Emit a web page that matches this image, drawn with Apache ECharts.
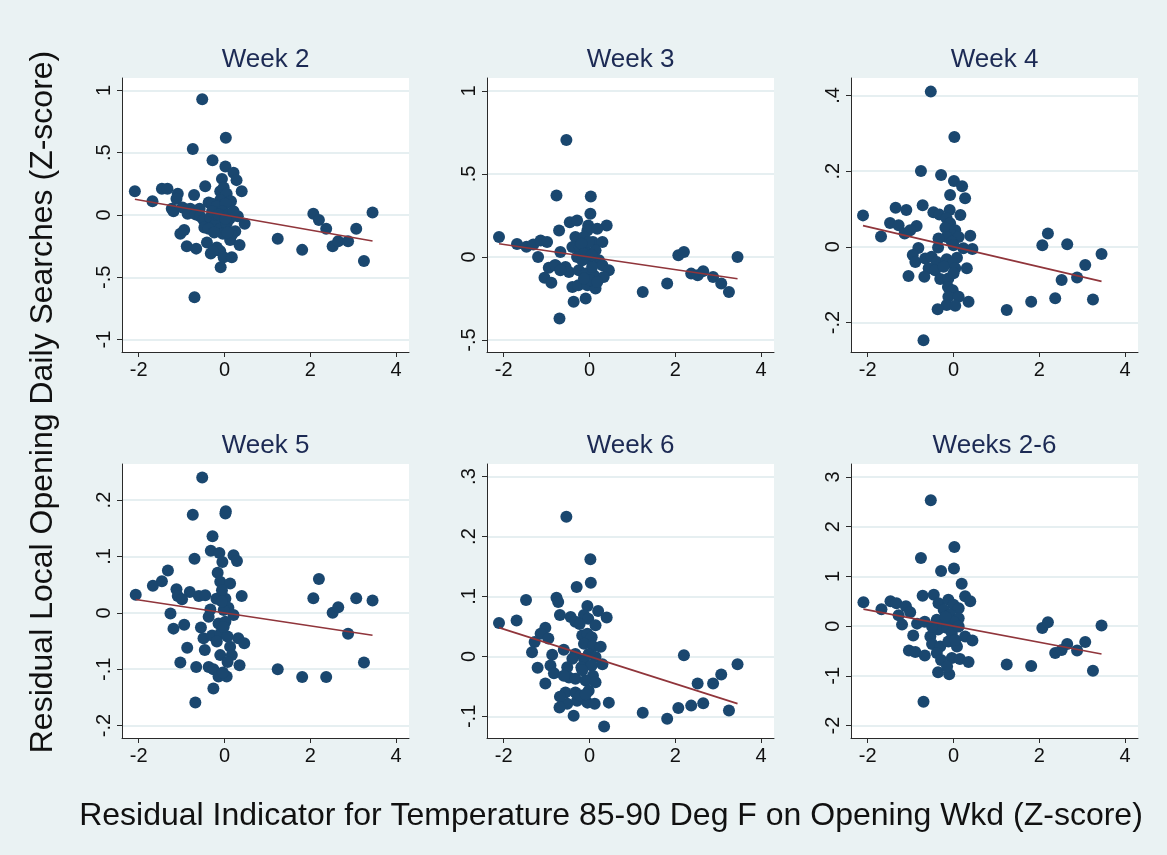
<!DOCTYPE html>
<html>
<head>
<meta charset="utf-8">
<script src="https://cdn.jsdelivr.net/npm/echarts@6/dist/echarts.min.js"></script>
<style>
html,body{margin:0;padding:0;background:#eaf2f3;}
#c{width:1167px;height:855px;}
</style>
</head>
<body>
<div id="c"></div>
<script>
const titles = ['Week 2','Week 3','Week 4','Week 5','Week 6','Weeks 2-6'];
const xTitle = 'Residual Indicator for Temperature 85-90 Deg F on Opening Wkd (Z-score)';
const yTitle = 'Residual Local Opening Daily Searches (Z-score)';
const xTicks = [-2,0,2,4];
const xRange = [-2.39,4.30];
const yTicks = [[-1,-0.5,0,0.5,1],[-0.5,0,0.5,1],[-0.2,0,0.2,0.4],[-0.2,-0.1,0,0.1,0.2],[-0.1,0,0.1,0.2,0.3],[-2,-1,0,1,2,3]];
const yRanges = [[-1.1,1.1],[-0.572,1.078],[-0.278,0.446],[-0.222,0.264],[-0.136,0.321],[-2.25,3.26]];
const slopes = [-0.0605,-0.038,-0.0265,-0.0115,-0.0228,-0.163];

const week2 = [[-2.09,0.19],[-1.68,0.11],[-1.46,0.21],[-1.33,0.21],[-1.09,0.17],[-1.12,0.13],[-1.23,0.05],[-1.19,0.03],[-0.98,0.06],[-0.80,0.05],[-0.86,0.01],[-0.71,0.16],[-0.74,0.53],[-0.52,0.93],[-0.70,-0.66],[-1.03,-0.15],[-0.94,-0.12],[-0.88,-0.25],[-0.66,-0.27],[-0.45,0.23],[-0.28,0.44],[0.03,0.62],[0.02,0.39],[0.21,0.34],[0.28,0.28],[0.40,0.19],[-0.06,0.29],[-0.10,0.19],[-0.02,0.22],[0.05,0.17],[0.15,0.11],[-0.10,0.12],[-0.37,0.10],[-0.29,0.09],[-0.18,0.07],[0.02,0.09],[-0.06,0.03],[0.09,0.005],[0.31,-0.01],[0.47,-0.07],[-0.58,0.05],[-0.68,0.005],[-0.57,-0.01],[-0.49,-0.04],[-0.47,-0.10],[-0.33,-0.02],[-0.26,-0.09],[-0.18,-0.05],[-0.10,-0.11],[0.05,-0.07],[-0.04,-0.15],[0.25,-0.13],[0.13,-0.20],[0.35,-0.24],[0.17,-0.16],[-0.18,-0.26],[-0.41,-0.22],[-0.32,-0.31],[-0.10,-0.29],[-0.02,-0.34],[0.17,-0.34],[-0.09,-0.42],[-0.27,-0.29],[-0.37,-0.11],[0.07,-0.14],[-0.22,0.005],[-0.29,0.03],[-0.24,-0.14],[0.12,-0.03],[0.21,0.03],[-0.14,0.005],[0.02,-0.03],[1.24,-0.19],[1.81,-0.28],[2.07,0.01],[2.20,-0.04],[2.37,-0.11],[2.52,-0.25],[2.65,-0.21],[2.88,-0.21],[3.07,-0.11],[3.25,-0.37],[3.45,0.02]];

const week3 = [[-2.11,0.12],[-1.69,0.078],[-1.47,0.062],[-1.31,0.076],[-1.14,0.10],[-0.99,0.09],[-1.20,0.0],[-0.95,-0.064],[-1.05,-0.125],[-0.89,-0.155],[-0.77,0.37],[-0.71,0.16],[-0.70,-0.37],[-0.68,0.03],[-0.81,-0.05],[-0.46,0.21],[-0.29,0.22],[-0.37,-0.27],[-0.09,-0.25],[0.03,0.365],[0.02,0.26],[0.40,0.19],[-0.54,0.705],[-0.03,0.19],[-0.05,0.16],[0.18,0.17],[-0.33,0.12],[-0.13,0.12],[0.08,0.09],[0.30,0.09],[-0.40,0.06],[-0.23,0.06],[-0.09,0.04],[0.14,0.04],[-0.29,0.0],[-0.02,-0.01],[0.22,-0.02],[0.30,-0.05],[0.45,-0.08],[-0.79,-0.05],[-0.56,-0.06],[-0.48,-0.09],[-0.68,-0.08],[-0.25,-0.08],[-0.09,-0.10],[0.10,-0.11],[0.33,-0.12],[-0.40,-0.18],[-0.26,-0.17],[-0.05,-0.17],[0.14,-0.19],[0.02,-0.14],[-0.17,-0.02],[0.06,-0.06],[-0.13,-0.13],[0.18,-0.15],[-0.02,0.09],[-0.19,0.08],[-0.12,0.02],[0.05,0.01],[1.24,-0.21],[1.81,-0.16],[2.07,0.01],[2.20,0.03],[2.37,-0.10],[2.52,-0.11],[2.65,-0.085],[2.88,-0.12],[3.07,-0.16],[3.25,-0.21],[3.45,0.0]];

const week4 = [[-0.53,0.41],[0.02,0.29],[-2.11,0.083],[-1.69,0.027],[-0.70,-0.247],[-0.76,0.20],[-0.29,0.19],[0.01,0.174],[0.20,0.16],[-0.08,0.137],[0.27,0.128],[-0.72,0.11],[-1.35,0.103],[-1.10,0.097],[-0.47,0.091],[-0.33,0.085],[-0.09,0.097],[0.16,0.084],[-1.48,0.063],[-1.28,0.057],[-0.86,0.055],[-1.14,0.035],[-1.01,0.044],[-0.16,0.075],[-0.08,0.062],[-0.19,0.05],[0.04,0.044],[-0.02,0.031],[-0.16,0.026],[0.12,0.026],[0.39,0.029],[-0.35,0.022],[-0.04,0.013],[-0.36,-0.002],[-0.82,-0.003],[0.23,-0.004],[0.44,-0.006],[0.0,0.004],[-0.95,-0.022],[-0.89,-0.04],[-0.66,-0.031],[-0.51,-0.026],[-0.39,-0.04],[-0.16,-0.033],[0.08,-0.029],[-0.02,-0.044],[-0.58,-0.057],[-0.43,-0.062],[-0.23,-0.053],[0.04,-0.057],[0.31,-0.057],[-1.05,-0.077],[-0.68,-0.079],[-0.31,-0.085],[-0.12,-0.084],[0.0,-0.07],[-0.13,-0.106],[-0.02,-0.115],[-0.12,-0.132],[0.12,-0.132],[0.35,-0.145],[-0.16,-0.154],[0.04,-0.156],[-0.37,-0.165],[1.24,-0.167],[1.81,-0.145],[2.07,0.004],[2.20,0.035],[2.37,-0.136],[2.52,-0.088],[2.65,0.007],[2.88,-0.081],[3.07,-0.048],[3.25,-0.139],[3.45,-0.019]];

const week5 = [[-2.07,0.032],[-1.67,0.048],[-1.46,0.056],[-1.32,0.075],[-0.52,0.24],[-0.74,0.174],[0.03,0.18],[0.02,0.176],[-0.28,0.136],[-0.68,-0.159],[-0.32,0.11],[-0.12,0.106],[-0.70,0.096],[0.21,0.102],[0.29,0.092],[-0.05,0.09],[-0.16,0.071],[-0.10,0.055],[0.13,0.052],[-1.12,0.042],[-0.81,0.037],[-1.09,0.03],[-0.99,0.024],[-0.60,0.03],[-0.45,0.031],[0.40,0.03],[-0.19,0.025],[0.02,0.025],[-0.06,0.04],[-0.33,0.006],[0.09,0.009],[-0.37,-0.007],[0.21,-0.004],[-1.26,-0.001],[-1.19,-0.028],[-0.94,-0.021],[-0.55,-0.026],[-0.14,-0.019],[0.02,-0.016],[-0.49,-0.045],[-0.29,-0.04],[-0.10,-0.037],[0.07,-0.042],[0.32,-0.045],[0.46,-0.054],[-0.18,-0.051],[0.13,-0.06],[-0.87,-0.062],[-0.46,-0.066],[-0.10,-0.075],[0.17,-0.075],[0.07,-0.087],[-1.03,-0.088],[-0.66,-0.096],[-0.37,-0.096],[-0.26,-0.1],[0.35,-0.093],[-0.14,-0.113],[0.05,-0.113],[-0.04,-0.106],[-0.26,-0.134],[-0.02,-0.025],[-0.02,0.005],[-0.06,0.02],[1.24,-0.10],[1.81,-0.114],[2.07,0.026],[2.20,0.06],[2.37,-0.114],[2.52,0.0],[2.65,0.01],[2.88,-0.037],[3.07,0.026],[3.25,-0.088],[3.45,0.022]];

const week6 = [[-0.54,0.233],[-2.11,0.056],[-1.70,0.06],[-1.48,0.094],[0.02,0.162],[0.03,0.123],[-0.30,0.116],[-0.77,0.098],[-0.73,0.091],[-0.05,0.084],[0.20,0.076],[0.40,0.065],[-0.69,0.069],[-0.44,0.066],[-0.13,0.069],[-0.03,0.063],[-0.33,0.058],[-0.23,0.054],[0.14,0.052],[-1.03,0.048],[-1.14,0.038],[-0.17,0.035],[-0.05,0.038],[0.05,0.032],[-0.96,0.03],[-1.28,0.024],[-0.13,0.021],[0.08,0.017],[-0.60,0.011],[0.26,0.016],[-1.34,0.007],[-0.87,0.003],[-0.33,0.004],[-0.02,0.004],[-0.13,-0.004],[0.14,-0.001],[-0.40,-0.004],[0.30,-0.013],[-1.21,-0.019],[-0.91,-0.015],[-0.83,-0.028],[-0.52,-0.018],[-0.19,-0.018],[0.05,-0.015],[-0.48,-0.035],[-0.33,-0.037],[-0.60,-0.032],[0.08,-0.032],[-0.09,-0.04],[-1.03,-0.045],[-0.56,-0.06],[-0.33,-0.06],[-0.02,-0.057],[0.14,-0.043],[-0.52,-0.079],[-0.29,-0.074],[-0.05,-0.077],[0.12,-0.079],[-0.69,-0.067],[-0.70,-0.085],[-0.37,-0.099],[0.45,-0.077],[0.34,-0.117],[-0.21,-0.065],[-0.09,-0.063],[-0.17,-0.023],[1.24,-0.094],[1.81,-0.104],[2.07,-0.086],[2.20,0.002],[2.37,-0.082],[2.52,-0.045],[2.65,-0.078],[2.88,-0.045],[3.07,-0.03],[3.25,-0.09],[3.45,-0.013]];

const weeks26 = [[-0.53,2.53],[-2.10,0.48],[-1.68,0.34],[-0.70,-1.52],[-0.76,1.37],[0.02,1.59],[-0.29,1.11],[0.01,1.16],[0.19,0.85],[-0.72,0.61],[-0.46,0.63],[0.27,0.60],[0.39,0.50],[-1.47,0.50],[-1.33,0.46],[-1.11,0.40],[-1.01,0.28],[-1.28,0.22],[-1.20,0.03],[-0.85,0.05],[-0.35,0.46],[-0.12,0.53],[0.0,0.43],[0.12,0.36],[-0.23,0.33],[-0.08,0.23],[0.12,0.16],[-0.39,0.13],[-0.19,0.09],[0.0,0.09],[-0.67,0.09],[-0.94,-0.19],[-0.54,-0.21],[-0.36,-0.07],[-0.15,-0.04],[-0.04,-0.14],[0.12,-0.01],[0.27,-0.21],[0.44,-0.29],[-0.50,-0.36],[-0.31,-0.41],[-0.12,-0.31],[0.08,-0.41],[-1.04,-0.49],[-0.89,-0.52],[-0.67,-0.59],[-0.39,-0.54],[-0.29,-0.68],[-0.04,-0.64],[0.15,-0.66],[0.35,-0.72],[-0.36,-0.93],[-0.10,-0.97],[-0.15,-0.81],[-0.19,0.19],[0.04,-0.28],[-0.50,-0.01],[1.24,-0.77],[1.81,-0.80],[2.07,-0.04],[2.20,0.08],[2.37,-0.54],[2.52,-0.48],[2.65,-0.36],[2.88,-0.49],[3.07,-0.32],[3.25,-0.90],[3.45,0.01]];

const panels = [week2, week3, week4, week5, week6, weeks26];

// layout (pixels)
const lefts = [122, 487, 851];
const tops = [78, 464];
const gw = 287, gh = 274;

const FONT = '"Liberation Sans", Arial, Helvetica, sans-serif';
const fmt = v => String(+v.toFixed(3)).replace(/^(-?)0\./, '$1.');

const grid = [], xAxis = [], yAxis = [], series = [], graphic = [];
panels.forEach((pts, i) => {
  const col = i % 3, row = Math.floor(i / 3);
  grid.push({left: lefts[col], top: tops[row], width: gw, height: gh, show: true, backgroundColor: '#ffffff', borderWidth: 0});
  xAxis.push({
    type: 'value', gridIndex: i, min: xRange[0], max: xRange[1],
    axisLine: {show: true, onZero: false, lineStyle: {color: '#2a2a2a', width: 1}},
    axisTick: {show: true, length: 5, customValues: xTicks, lineStyle: {color: '#2a2a2a'}},
    axisLabel: {customValues: xTicks, formatter: fmt, fontSize: 20, color: '#111', fontFamily: FONT, margin: 8},
    splitLine: {show: false}
  });
  yAxis.push({
    type: 'value', gridIndex: i, min: yRanges[i][0], max: yRanges[i][1],
    axisLine: {show: true, onZero: false, lineStyle: {color: '#2a2a2a', width: 1}},
    axisTick: {show: true, length: 5, customValues: yTicks[i], lineStyle: {color: '#2a2a2a'}},
    axisLabel: {customValues: yTicks[i], formatter: fmt, fontSize: 20, color: '#111', fontFamily: FONT, rotate: 90, margin: 8},
    splitLine: {show: true, lineStyle: {color: '#e6eff1', width: 2}}
  });
  series.push({
    type: 'scatter', xAxisIndex: i, yAxisIndex: i, data: pts, symbolSize: 12,
    itemStyle: {color: '#1a476f', opacity: 1}, z: 2, silent: true
  });
  const xs = pts.map(p => p[0]);
  const x0 = Math.min(...xs), x1 = Math.max(...xs);
  series.push({
    type: 'line', xAxisIndex: i, yAxisIndex: i, symbol: 'none', z: 3, silent: true,
    data: [[x0, slopes[i] * x0], [x1, slopes[i] * x1]],
    lineStyle: {color: '#90353b', width: 1.6}
  });
  graphic.push({
    type: 'text', x: lefts[col] + gw / 2, y: tops[row] - 18,
    style: {text: titles[i], font: '26px ' + FONT, fill: '#1c2a54', align: 'center', verticalAlign: 'middle'}
  });
});

graphic.push({
  type: 'text', x: 611, y: 816,
  style: {text: xTitle, font: '32px ' + FONT, fill: '#111', align: 'center', verticalAlign: 'middle'}
});
graphic.push({
  type: 'text', x: 43, y: 402, rotation: Math.PI / 2,
  style: {text: yTitle, font: '32px ' + FONT, fill: '#111', align: 'center', verticalAlign: 'middle'}
});

const chart = echarts.init(document.getElementById('c'), null, {renderer: 'canvas'});
chart.setOption({
  backgroundColor: '#eaf2f3',
  animation: false,
  grid, xAxis, yAxis, series, graphic
});
</script>
</body>
</html>
